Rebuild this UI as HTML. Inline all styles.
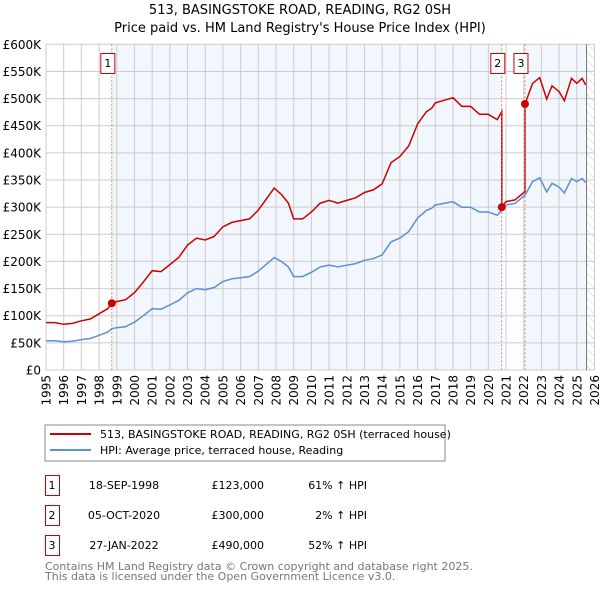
<!DOCTYPE html>
<html><head><meta charset="utf-8"><style>
body{margin:0;background:#fff;width:600px;height:590px;overflow:hidden;font-family:"Liberation Sans","DejaVu Sans",sans-serif}
svg text{font-family:"DejaVu Sans","Liberation Sans",sans-serif}
</style></head><body>
<svg id="chart" width="600" height="590" xmlns="http://www.w3.org/2000/svg">
<text x="300" y="14" font-size="13" text-anchor="middle">513, BASINGSTOKE ROAD, READING, RG2 0SH</text>
<text x="300" y="32" font-size="13" text-anchor="middle">Price paid vs. HM Land Registry's House Price Index (HPI)</text>
<defs><pattern id="hatch" width="6" height="6" patternUnits="userSpaceOnUse" patternTransform="rotate(-45)"><line x1="0" y1="0" x2="0" y2="6" stroke="#ccc" stroke-width="1"/></pattern></defs>
<g id="bg"></g><g id="grid"></g><g id="marks"></g><g id="axes"></g>
<g>
<rect x="45" y="425" width="400" height="36" fill="#fff" stroke="#888"/>
<line x1="50" y1="434" x2="91" y2="434" stroke="#cc0000" stroke-width="2"/>
<text x="100" y="438" font-size="11">513, BASINGSTOKE ROAD, READING, RG2 0SH (terraced house)</text>
<line x1="50" y1="450" x2="91" y2="450" stroke="#5b8fd6" stroke-width="2"/>
<text x="100" y="454" font-size="11">HPI: Average price, terraced house, Reading</text>
</g>
<g font-size="11">
<rect x="45.5" y="475.5" width="14" height="20" fill="none" stroke="#cc0000"/><text x="52" y="489" text-anchor="middle">1</text>
<text x="124" y="489" text-anchor="middle">18-SEP-1998</text><text x="264" y="489" text-anchor="end">£123,000</text><text x="367" y="489" text-anchor="end">61% ↑ HPI</text>
<rect x="45.5" y="505.5" width="14" height="20" fill="none" stroke="#cc0000"/><text x="52" y="519" text-anchor="middle">2</text>
<text x="124" y="519" text-anchor="middle">05-OCT-2020</text><text x="264" y="519" text-anchor="end">£300,000</text><text x="367" y="519" text-anchor="end">2% ↑ HPI</text>
<rect x="45.5" y="535.5" width="14" height="20" fill="none" stroke="#cc0000"/><text x="52" y="549" text-anchor="middle">3</text>
<text x="124" y="549" text-anchor="middle">27-JAN-2022</text><text x="264" y="549" text-anchor="end">£490,000</text><text x="367" y="549" text-anchor="end">52% ↑ HPI</text>
</g>
<text x="45" y="570" font-size="11" fill="#777">Contains HM Land Registry data © Crown copyright and database right 2025.</text>
<text x="45" y="580" font-size="11" fill="#777">This data is licensed under the Open Government Licence v3.0.</text>
</svg>
<script>
const hpiYears=[1995,1995.5,1996,1996.5,1997,1997.5,1998,1998.5,1998.72,1999,1999.5,2000,2000.5,2001,2001.5,2002,2002.5,2003,2003.5,2004,2004.5,2005,2005.5,2006,2006.5,2007,2007.5,2007.9,2008.3,2008.7,2009,2009.5,2010,2010.5,2011,2011.5,2012,2012.5,2013,2013.5,2014,2014.5,2015,2015.5,2016,2016.5,2016.8,2017,2017.5,2018,2018.5,2019,2019.5,2020,2020.5,2020.76,2021,2021.5,2022.07,2022.5,2022.9,2023.3,2023.6,2024,2024.3,2024.7,2025,2025.3,2025.5];
const hpiValues=[54,54,52,53,56,58,64,70,76,78,80,88,100,113,112,120,128,142,150,148,152,163,168,170,172,182,196,207,200,190,172,172,180,190,193,190,193,196,202,205,212,236,243,255,280,294,298,304,307,310,300,300,291,291,285,294,304,307,322,347,354,328,344,337,326,353,347,353,345];
const saleDates=[1998.72,2020.76,2022.07];
const salePrices=[123,300,490];
const yTicks=[0,50,100,150,200,250,300,350,400,450,500,550,600];
const xTicks=[1995,1996,1997,1998,1999,2000,2001,2002,2003,2004,2005,2006,2007,2008,2009,2010,2011,2012,2013,2014,2015,2016,2017,2018,2019,2020,2021,2022,2023,2024,2025,2026];
const NS='http://www.w3.org/2000/svg';
const L=46,R=594.5,T=44.3,B=370;
const xS=v=>L+(v-1995)/(2026-1995)*(R-L);
const yS=v=>B-v/600*(B-T);
function mk(tag,attrs,parent){const e=document.createElementNS(NS,tag);for(const k in attrs)e.setAttribute(k,attrs[k]);document.getElementById(parent).appendChild(e);return e;}
const endX=xS(2025.55);
let e=mk('rect',{x:L,y:T,width:R-L,height:B-T,fill:'#fff'},'bg');


e=mk('rect',{x:xS(saleDates[0]),y:T,width:xS(saleDates[1])-xS(saleDates[0]),height:B-T,fill:'#f2f6fd'},'bg');


e=mk('rect',{x:xS(saleDates[2]),y:T,width:endX-xS(saleDates[2]),height:B-T,fill:'#f2f6fd'},'bg');


e=mk('rect',{x:endX,y:T,width:R-endX,height:B-T,fill:'url(#hatch)'},'bg');


yTicks.forEach(v=>{
 const g=mk('line',{x1:L,x2:R,y1:yS(v),y2:yS(v),stroke:'#cccccc'},'grid');
 
 
 const t=mk('text',{x:L-5,y:yS(v)+4.5,'font-size':12,'text-anchor':'end'},'axes');
 
 
 t.textContent=v===0?'£0':'£'+v+'K';
});
xTicks.forEach(v=>{
 const g=mk('line',{x1:xS(v),x2:xS(v),y1:T,y2:B,stroke:'#cccccc'},'grid');
 
 
 const t=mk('text',{x:0,y:0,'font-size':12,'text-anchor':'end',transform:`translate(${xS(v)+4.5},${B+5}) rotate(-90)`},'axes');
 
 
 t.textContent=v;
});
e=mk('line',{x1:endX,x2:endX,y1:T,y2:B,stroke:'#777'},'grid');


function hpiAt(d){for(let i=0;i<hpiYears.length-1;i++){if(d>=hpiYears[i]&&d<=hpiYears[i+1]){const f=(d-hpiYears[i])/(hpiYears[i+1]-hpiYears[i]);return hpiValues[i]+f*(hpiValues[i+1]-hpiValues[i]);}}return hpiValues[hpiValues.length-1];}
let red=[];
hpiYears.forEach((y,i)=>{
 let k=0;for(let j=0;j<saleDates.length;j++)if(y>=saleDates[j])k=j;
 red.push([y,hpiValues[i]*salePrices[k]/hpiAt(saleDates[k])]);
});
saleDates.forEach((d,j)=>{if(j>0){const prev=salePrices[j-1]/hpiAt(saleDates[j-1])*hpiAt(d);red.push([d-0.0001,prev]);}red.push([d,salePrices[j]]);});
red.sort((a,b)=>a[0]-b[0]);
const pathOf=pts=>pts.map((p,i)=>(i?'L':'M')+xS(p[0]).toFixed(1)+','+yS(p[1]).toFixed(1)).join('');
e=mk('path',{d:pathOf(hpiYears.map((y,i)=>[y,hpiValues[i]])),fill:'none',stroke:'#5b8fd6','stroke-width':1.5},'marks');


e=mk('path',{d:pathOf(red),fill:'none',stroke:'#cc0000','stroke-width':1.5},'marks');


saleDates.forEach((d,j)=>{
 const l=mk('line',{x1:xS(d),x2:xS(d),y1:T,y2:B,stroke:'#e06060','stroke-dasharray':'2,2','stroke-width':0.8},'marks');
 
 
 const c=mk('circle',{cx:xS(d),cy:yS(salePrices[j]),r:4,fill:'#cc0000'},'marks');
 
 
 const off=-11;
 const r=mk('rect',{x:xS(d)+off,y:53.5,width:14,height:20,fill:'#fff',stroke:'#cc0000'},'marks');
 
 
 const t=mk('text',{x:xS(d)+off+7,y:67,'font-size':11,'text-anchor':'middle'},'marks');
 
 
 t.textContent=j+1;
});
</script>
</body></html>
